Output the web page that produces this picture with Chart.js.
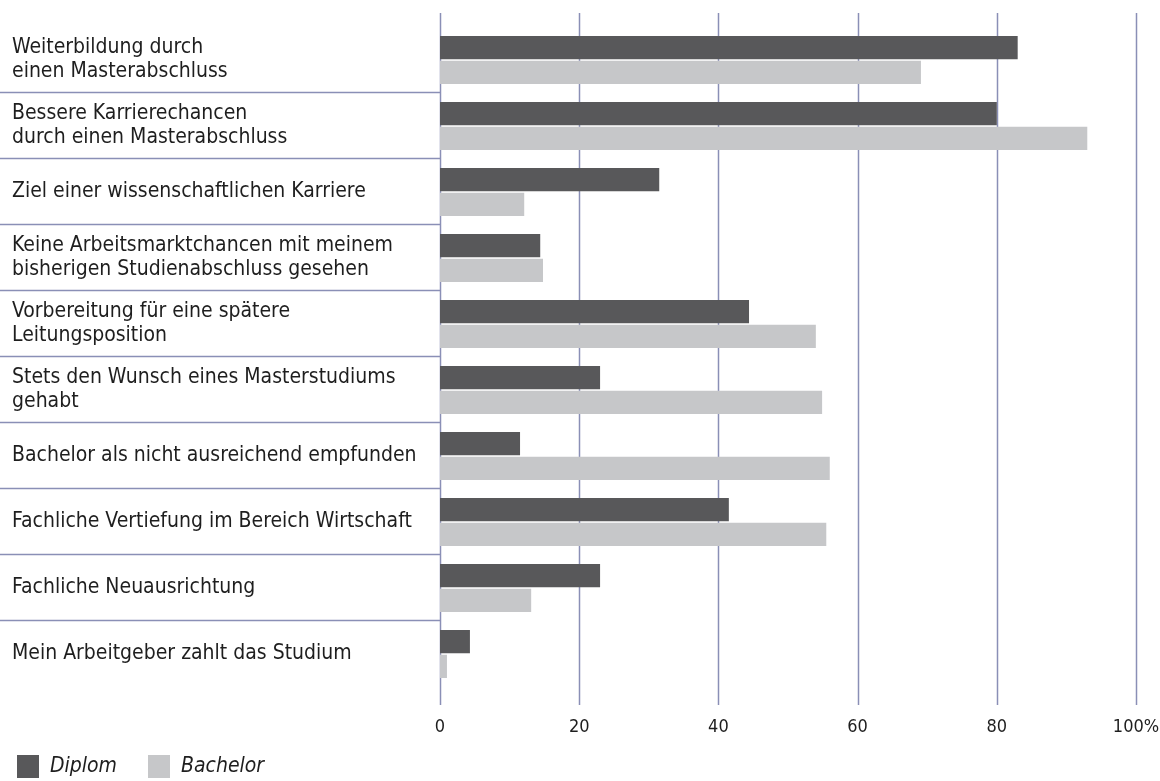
<!DOCTYPE html>
<html>
<head>
<meta charset="utf-8">
<script src="https://cdn.jsdelivr.net/npm/chart.js@4"></script>
<style>
  html, body { margin: 0; padding: 0; background: #fff; }
  #wrap { width: 1160px; height: 781px; }
</style>
</head>
<body>
<div id="wrap"><canvas id="motiveChart" width="1160" height="781"></canvas></div>
<script>
// categories (multi-line labels)
const categories = [
  ['Weiterbildung durch', 'einen Masterabschluss'],
  ['Bessere Karrierechancen', 'durch einen Masterabschluss'],
  'Ziel einer wissenschaftlichen Karriere',
  ['Keine Arbeitsmarktchancen mit meinem', 'bisherigen Studienabschluss gesehen'],
  ['Vorbereitung für eine spätere', 'Leitungsposition'],
  ['Stets den Wunsch eines Masterstudiums', 'gehabt'],
  'Bachelor als nicht ausreichend empfunden',
  'Fachliche Vertiefung im Bereich Wirtschaft',
  'Fachliche Neuausrichtung',
  'Mein Arbeitgeber zahlt das Studium'
];

// percent values
const diplom = [83, 80, 31.5, 14.4, 44.4, 23, 11.5, 41.5, 23, 4.3];
const bachelor = [69.1, 93, 12.1, 14.8, 54, 54.9, 56, 55.5, 13.1, 1];

const xTicks = [0, 20, 40, 60, 80, 100];

const FONT = '"DejaVu Sans Condensed", "DejaVu Sans", sans-serif';
const GRID = '#8a8fb6';
const TEXT = '#1e1e1e';

// vertical grid lines and row separators
const linesPlugin = {
  id: 'lines',
  beforeDatasetsDraw(chart) {
    const ctx = chart.ctx;
    const x = chart.scales.x;
    const y = chart.scales.y;
    ctx.save();
    ctx.strokeStyle = GRID;
    ctx.lineWidth = 1.5;
    xTicks.forEach(v => {
      const px = Math.round(x.getPixelForValue(v)) + 0.5;
      ctx.beginPath();
      ctx.moveTo(px, 13);
      ctx.lineTo(px, 705);
      ctx.stroke();
    });
    for (let i = 0; i < categories.length - 1; i++) {
      const py = Math.round((y.getPixelForValue(i) + y.getPixelForValue(i + 1)) / 2) - 0.5;
      ctx.beginPath();
      ctx.moveTo(0, py);
      ctx.lineTo(x.left, py);
      ctx.stroke();
    }
    ctx.restore();
  }
};

// legend at the bottom left
const legendPlugin = {
  id: 'bottomLegend',
  afterDraw(chart) {
    const ctx = chart.ctx;
    const pos = [17, 148];
    ctx.save();
    ctx.font = 'italic 21px ' + FONT;
    ctx.textBaseline = 'middle';
    chart.data.datasets.forEach((ds, i) => {
      ctx.fillStyle = ds.backgroundColor;
      ctx.fillRect(pos[i], 755, 22, 23);
      ctx.fillStyle = TEXT;
      ctx.fillText(ds.label, pos[i] + 33, 767);
    });
    ctx.restore();
  }
};

const ctx = document.getElementById('motiveChart').getContext('2d');
new Chart(ctx, {
  type: 'bar',
  data: {
    labels: categories,
    datasets: [{
      label: 'Diplom',
      data: diplom,
      backgroundColor: '#58585a',
      categoryPercentage: 0.75,
      barPercentage: 0.94
    }, {
      label: 'Bachelor',
      data: bachelor,
      backgroundColor: '#c6c7c9',
      categoryPercentage: 0.75,
      barPercentage: 0.94
    }]
  },
  options: {
    indexAxis: 'y',
    responsive: false,
    animation: false,
    layout: {
      padding: { left: 12, right: 24, top: 27, bottom: 0 }
    },
    scales: {
      x: {
        min: 0,
        max: 100,
        afterBuildTicks(scale) {
          scale.ticks = xTicks.map(v => ({ value: v }));
        },
        afterFit(scale) {
          scale.height = 94;
          scale.paddingLeft = 0;
          scale.paddingRight = 0;
        },
        grid: { display: false, drawTicks: false },
        border: { display: false },
        ticks: {
          padding: 30,
          color: TEXT,
          font: { family: FONT, size: 18 },
          callback: v => v === 100 ? '100%' : String(v)
        }
      },
      y: {
        afterFit(scale) {
          scale.width = 428;
          scale.paddingTop = 0;
          scale.paddingBottom = 0;
        },
        grid: { display: false, drawTicks: false },
        border: { display: false },
        ticks: {
          crossAlign: 'far',
          color: TEXT,
          font: { family: FONT, size: 21, lineHeight: 1.14 }
        }
      }
    },
    plugins: {
      legend: { display: false },
      tooltip: { enabled: false }
    }
  },
  plugins: [linesPlugin, legendPlugin]
});
</script>
</body>
</html>
